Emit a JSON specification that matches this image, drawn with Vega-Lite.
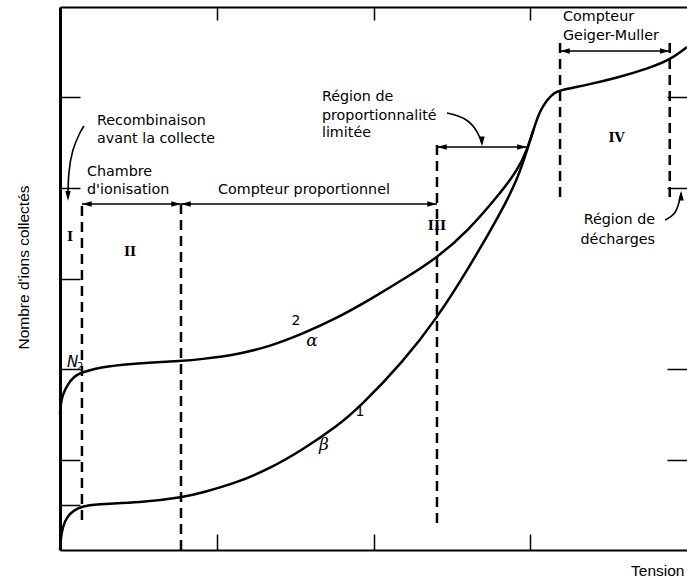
{
  "$schema": "https://vega.github.io/schema/vega-lite/v6.json",
  "width": 627,
  "height": 543,
  "autosize": {"type": "none"},
  "padding": {"left": 60, "top": 7, "right": 0, "bottom": 31},
  "background": "white",
  "config": {"view": {"stroke": null}, "font": "DejaVu Sans"},
  "datasets": {
    "curves": [
      {"curve": "2", "x": 0, "y": 1.5},
      {"curve": "2", "x": 0.005, "y": 1.62},
      {"curve": "2", "x": 0.018, "y": 1.72},
      {"curve": "2", "x": 0.045, "y": 1.82},
      {"curve": "2", "x": 0.09, "y": 1.92},
      {"curve": "2", "x": 0.14, "y": 1.967},
      {"curve": "2", "x": 0.3, "y": 2.033},
      {"curve": "2", "x": 0.51, "y": 2.066},
      {"curve": "2", "x": 0.78, "y": 2.088},
      {"curve": "2", "x": 0.91, "y": 2.11},
      {"curve": "2", "x": 1.13, "y": 2.16},
      {"curve": "2", "x": 1.34, "y": 2.25},
      {"curve": "2", "x": 1.55, "y": 2.39},
      {"curve": "2", "x": 1.77, "y": 2.565},
      {"curve": "2", "x": 1.98, "y": 2.77},
      {"curve": "2", "x": 2.19, "y": 2.99},
      {"curve": "2", "x": 2.41, "y": 3.235},
      {"curve": "2", "x": 2.6, "y": 3.52},
      {"curve": "2", "x": 2.81, "y": 3.945},
      {"curve": "2", "x": 2.92, "y": 4.2},
      {"curve": "2", "x": 2.98, "y": 4.42},
      {"curve": "2", "x": 3.02, "y": 4.641},
      {"curve": "2", "x": 3.06, "y": 4.85},
      {"curve": "2", "x": 3.11, "y": 4.98},
      {"curve": "2", "x": 3.15, "y": 5.05},
      {"curve": "2", "x": 3.2, "y": 5.085},
      {"curve": "2", "x": 3.36, "y": 5.138},
      {"curve": "2", "x": 3.55, "y": 5.215},
      {"curve": "2", "x": 3.76, "y": 5.326},
      {"curve": "2", "x": 3.89, "y": 5.414},
      {"curve": "2", "x": 4.0, "y": 5.558},
      {"curve": "1", "x": 0, "y": 0},
      {"curve": "1", "x": 0.004, "y": 0.12},
      {"curve": "1", "x": 0.018, "y": 0.26},
      {"curve": "1", "x": 0.045, "y": 0.37},
      {"curve": "1", "x": 0.09, "y": 0.44},
      {"curve": "1", "x": 0.14, "y": 0.48},
      {"curve": "1", "x": 0.22, "y": 0.508},
      {"curve": "1", "x": 0.51, "y": 0.522},
      {"curve": "1", "x": 0.78, "y": 0.58},
      {"curve": "1", "x": 0.91, "y": 0.635},
      {"curve": "1", "x": 1.13, "y": 0.745},
      {"curve": "1", "x": 1.34, "y": 0.9},
      {"curve": "1", "x": 1.55, "y": 1.11},
      {"curve": "1", "x": 1.77, "y": 1.37},
      {"curve": "1", "x": 1.91, "y": 1.575},
      {"curve": "1", "x": 2.19, "y": 2.08},
      {"curve": "1", "x": 2.41, "y": 2.575},
      {"curve": "1", "x": 2.6, "y": 3.094},
      {"curve": "1", "x": 2.81, "y": 3.72},
      {"curve": "1", "x": 2.92, "y": 4.1},
      {"curve": "1", "x": 2.98, "y": 4.42},
      {"curve": "1", "x": 3.02, "y": 4.641}
    ],
    "dashes": [
      {"x": 0.14, "y1": 0.331, "y2": 3.812},
      {"x": 0.772, "y1": 0, "y2": 3.812},
      {"x": 2.405, "y1": 0.298, "y2": 4.53},
      {"x": 3.19, "y1": 3.9, "y2": 5.635},
      {"x": 3.89, "y1": 3.9, "y2": 5.657}
    ],
    "spans": [
      {"x1": 0.14, "x2": 0.772, "y": 3.823},
      {"x1": 0.772, "x2": 2.405, "y": 3.823},
      {"x1": 2.405, "x2": 2.979, "y": 4.453},
      {"x1": 3.19, "x2": 3.89, "y": 5.514}
    ],
    "heads": [
      {"x": 0.14, "y": 3.823, "dir": "l"},
      {"x": 0.772, "y": 3.823, "dir": "r"},
      {"x": 0.772, "y": 3.823, "dir": "l"},
      {"x": 2.405, "y": 3.823, "dir": "r"},
      {"x": 2.405, "y": 4.453, "dir": "l"},
      {"x": 2.979, "y": 4.453, "dir": "r"},
      {"x": 3.19, "y": 5.514, "dir": "l"},
      {"x": 3.89, "y": 5.514, "dir": "r"},
      {"x": 0.051, "y": 3.86, "dir": "d"},
      {"x": 2.692, "y": 4.46, "dir": "d"},
      {"x": 3.962, "y": 3.97, "dir": "u"}
    ],
    "pointers": [
      {"id": "a", "i": 0, "x": 0.153, "y": 4.685},
      {"id": "a", "i": 1, "x": 0.128, "y": 4.619},
      {"id": "a", "i": 2, "x": 0.077, "y": 4.42},
      {"id": "a", "i": 3, "x": 0.053, "y": 4.166},
      {"id": "a", "i": 4, "x": 0.051, "y": 3.9},
      {"id": "b", "i": 0, "x": 2.469, "y": 4.829},
      {"id": "b", "i": 1, "x": 2.597, "y": 4.773},
      {"id": "b", "i": 2, "x": 2.667, "y": 4.619},
      {"id": "b", "i": 3, "x": 2.692, "y": 4.49},
      {"id": "c", "i": 0, "x": 3.86, "y": 3.646},
      {"id": "c", "i": 1, "x": 3.923, "y": 3.702},
      {"id": "c", "i": 2, "x": 3.949, "y": 3.834},
      {"id": "c", "i": 3, "x": 3.962, "y": 3.94}
    ],
    "textLeft": [
      {"t": "Recombinaison", "x": 0.236, "y": 4.74},
      {"t": "avant la collecte", "x": 0.236, "y": 4.541},
      {"t": "Chambre", "x": 0.172, "y": 4.177},
      {"t": "d'ionisation", "x": 0.172, "y": 3.978},
      {"t": "Compteur proportionnel", "x": 1.008, "y": 3.978},
      {"t": "Région de", "x": 1.671, "y": 5.006},
      {"t": "proportionnalité", "x": 1.671, "y": 4.796},
      {"t": "limitée", "x": 1.671, "y": 4.608},
      {"t": "Compteur", "x": 3.209, "y": 5.89},
      {"t": "Geiger-Muller", "x": 3.209, "y": 5.68}
    ],
    "textRight": [
      {"t": "Région de", "x": 3.796, "y": 3.646},
      {"t": "décharges", "x": 3.796, "y": 3.425}
    ],
    "roman": [
      {"t": "I", "x": 0.064, "y": 3.459},
      {"t": "II", "x": 0.447, "y": 3.293},
      {"t": "III", "x": 2.405, "y": 3.575},
      {"t": "IV", "x": 3.55, "y": 4.552}
    ],
    "nums": [
      {"t": "2", "x": 1.506, "y": 2.53},
      {"t": "1", "x": 1.914, "y": 1.525}
    ],
    "greek": [
      {"t": "α", "x": 1.608, "y": 2.309},
      {"t": "β", "x": 1.684, "y": 1.16}
    ],
    "nletter": [
      {"t": "N", "x": 0.045, "y": 2.08}
    ],
    "nsub": [
      {"t": "2", "x": 0.108, "y": 2.02}
    ]
  },
  "layer": [
    {
      "data": {"name": "curves"},
      "mark": {"type": "line", "interpolate": "basis", "color": "black", "strokeWidth": 2.5},
      "encoding": {
        "x": {"field": "x", "type": "quantitative", "scale": {"domain": [0, 4], "nice": false, "zero": false},
          "axis": {"orient": "bottom", "values": [1, 2, 3], "labels": false, "grid": false, "tickSize": -16, "tickWidth": 1.5, "tickColor": "black", "domainColor": "black", "domainWidth": 2,
            "title": "Tension", "titleFont": "Liberation Sans", "titleFontSize": 15.5, "titleFontWeight": "normal", "titleColor": "black", "titleAlign": "right", "titleAnchor": "end", "titleX": 624, "titleY": 25, "titleBaseline": "alphabetic"}},
        "y": {"field": "y", "type": "quantitative", "scale": {"domain": [0, 6], "nice": false, "zero": false},
          "axis": {"orient": "left", "values": [0.5, 1, 2, 3, 4, 5], "labels": false, "grid": false, "tickSize": -20, "tickWidth": 1.5, "tickColor": "black", "domainColor": "black", "domainWidth": 3,
            "title": "Nombre d'ions collectés", "titleFont": "Liberation Sans", "titleFontSize": 15.5, "titleFontWeight": "normal", "titleColor": "black", "titleAngle": -90, "titleAlign": "center", "titleBaseline": "alphabetic", "titleX": -32, "titleY": 260}},
        "detail": {"field": "curve"}
      }
    },
    {
      "data": {"name": "dashes"},
      "mark": {"type": "rule", "strokeDash": [10, 6], "strokeWidth": 2.5, "color": "black"},
      "encoding": {
        "x": {"field": "x", "type": "quantitative", "scale": {"domain": [0, 4], "nice": false, "zero": false},
          "axis": {"orient": "top", "values": [1, 2, 3], "labels": false, "grid": false, "tickSize": -13, "tickWidth": 1.5, "tickColor": "black", "domainColor": "black", "domainWidth": 2, "title": null}},
        "y": {"field": "y1", "type": "quantitative", "scale": {"domain": [0, 6], "nice": false, "zero": false},
          "axis": {"orient": "right", "values": [1, 2, 4, 5], "labels": false, "grid": false, "domain": false, "tickSize": -20, "tickWidth": 1.5, "tickColor": "black", "title": null}},
        "y2": {"field": "y2"}
      }
    },
    {
      "data": {"name": "spans"},
      "mark": {"type": "rule", "strokeWidth": 1.5, "color": "black"},
      "encoding": {
        "x": {"field": "x1", "type": "quantitative", "axis": null},
        "x2": {"field": "x2"},
        "y": {"field": "y", "type": "quantitative", "axis": null}
      }
    },
    {
      "data": {"name": "pointers"},
      "mark": {"type": "line", "interpolate": "basis", "strokeWidth": 1.6, "color": "black"},
      "encoding": {
        "x": {"field": "x", "type": "quantitative", "axis": null},
        "y": {"field": "y", "type": "quantitative", "axis": null},
        "detail": {"field": "id"},
        "order": {"field": "i", "type": "quantitative"}
      }
    },
    {
      "data": {"name": "heads"},
      "mark": {"type": "point", "filled": true, "opacity": 1, "color": "black", "size": 380},
      "encoding": {
        "x": {"field": "x", "type": "quantitative", "axis": null},
        "y": {"field": "y", "type": "quantitative", "axis": null},
        "shape": {"field": "dir", "type": "nominal", "legend": null,
          "scale": {"domain": ["r", "l", "d", "u"], "range": ["M0,0L-1,-0.28L-1,0.28Z", "M0,0L1,-0.28L1,0.28Z", "M0,0L-0.28,-1L0.28,-1Z", "M0,0L-0.28,1L0.28,1Z"]}}
      }
    },
    {
      "data": {"name": "textLeft"},
      "mark": {"type": "text", "align": "left", "baseline": "middle", "font": "DejaVu Sans", "fontSize": 14.3, "fill": "black"},
      "encoding": {
        "x": {"field": "x", "type": "quantitative", "axis": null},
        "y": {"field": "y", "type": "quantitative", "axis": null},
        "text": {"field": "t"}
      }
    },
    {
      "data": {"name": "textRight"},
      "mark": {"type": "text", "align": "right", "baseline": "middle", "font": "DejaVu Sans", "fontSize": 14.3, "fill": "black"},
      "encoding": {
        "x": {"field": "x", "type": "quantitative", "axis": null},
        "y": {"field": "y", "type": "quantitative", "axis": null},
        "text": {"field": "t"}
      }
    },
    {
      "data": {"name": "roman"},
      "mark": {"type": "text", "align": "center", "baseline": "middle", "font": "DejaVu Serif", "fontWeight": "bold", "fontSize": 13, "fill": "black"},
      "encoding": {
        "x": {"field": "x", "type": "quantitative", "axis": null},
        "y": {"field": "y", "type": "quantitative", "axis": null},
        "text": {"field": "t"}
      }
    },
    {
      "data": {"name": "nums"},
      "mark": {"type": "text", "align": "center", "baseline": "middle", "font": "DejaVu Sans", "fontSize": 14, "fill": "black"},
      "encoding": {
        "x": {"field": "x", "type": "quantitative", "axis": null},
        "y": {"field": "y", "type": "quantitative", "axis": null},
        "text": {"field": "t"}
      }
    },
    {
      "data": {"name": "greek"},
      "mark": {"type": "text", "align": "center", "baseline": "middle", "font": "DejaVu Serif", "fontStyle": "italic", "fontSize": 17, "fill": "black"},
      "encoding": {
        "x": {"field": "x", "type": "quantitative", "axis": null},
        "y": {"field": "y", "type": "quantitative", "axis": null},
        "text": {"field": "t"}
      }
    },
    {
      "data": {"name": "nletter"},
      "mark": {"type": "text", "align": "left", "baseline": "middle", "font": "DejaVu Sans", "fontStyle": "italic", "fontSize": 15, "fill": "black"},
      "encoding": {
        "x": {"field": "x", "type": "quantitative", "axis": null},
        "y": {"field": "y", "type": "quantitative", "axis": null},
        "text": {"field": "t"}
      }
    },
    {
      "data": {"name": "nsub"},
      "mark": {"type": "text", "align": "left", "baseline": "middle", "font": "DejaVu Sans", "fontSize": 10, "fill": "black"},
      "encoding": {
        "x": {"field": "x", "type": "quantitative", "axis": null},
        "y": {"field": "y", "type": "quantitative", "axis": null},
        "text": {"field": "t"}
      }
    }
  ],
  "resolve": {"axis": {"x": "independent", "y": "independent"}}
}
